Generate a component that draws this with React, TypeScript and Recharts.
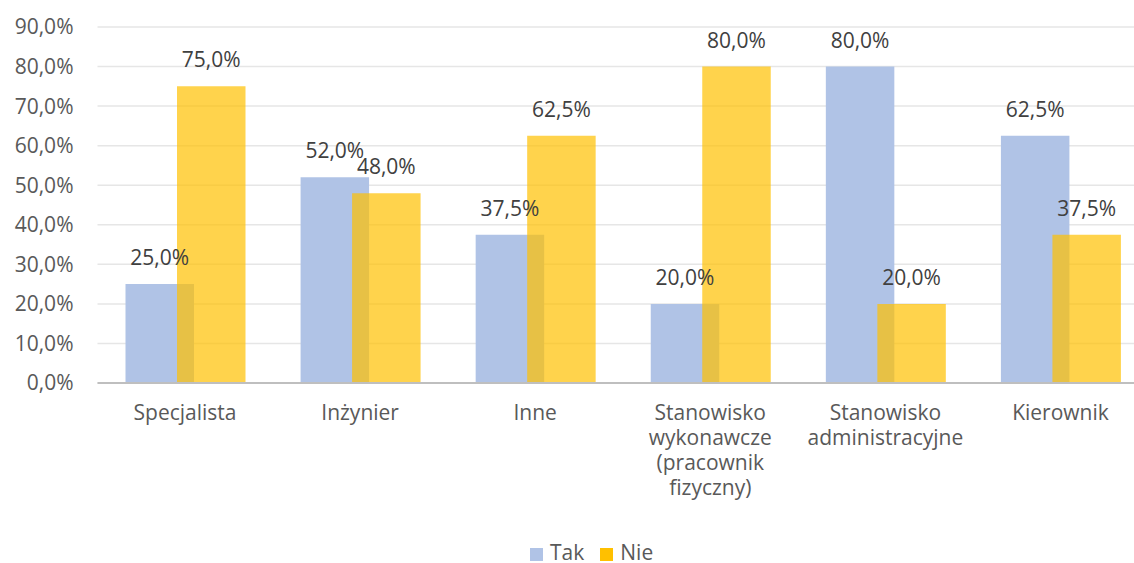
import React from 'react';
import { BarChart, Bar, XAxis, YAxis, CartesianGrid, Legend, LabelList } from 'recharts';

const categories = [
  'Specjalista',
  'Inżynier',
  'Inne',
  'Stanowisko wykonawcze (pracownik fizyczny)',
  'Stanowisko administracyjne',
  'Kierownik',
];
const takValues = [25, 52, 37.5, 20, 80, 62.5];
const nieValues = [75, 48, 62.5, 80, 20, 37.5];
const yTicks = [0, 10, 20, 30, 40, 50, 60, 70, 80, 90];
const seriesOrder = ['Tak', 'Nie'];

const data = categories.map((name, i) => ({ name, Tak: takValues[i], Nie: nieValues[i] }));

const FONT = '"Open Sans", sans-serif';
const fmt = (v: number) => `${v.toFixed(1).replace('.', ',')}%`;

const XTick = (props: any) => {
  const { x, y, payload } = props;
  const lines = String(payload.value).split(' ');
  return (
    <text x={x} y={y} textAnchor="middle" fontFamily={FONT} fontSize={21} fill="#595959">
      {lines.map((ln, i) => (
        <tspan key={i} x={x} dy={i === 0 ? 15 : 25}>
          {ln}
        </tspan>
      ))}
    </text>
  );
};

export default function App() {
  return (
    <div style={{ position: 'absolute', left: 0, top: 0, width: 1134, height: 563, overflow: 'hidden', background: '#fff' }}>
      <BarChart
        width={1148}
        height={563}
        data={data}
        margin={{ top: 27, right: 0, bottom: 0, left: 0 }}
        barGap={-17}
        barSize={68.5}
      >
        <CartesianGrid vertical={false} stroke="#E6E6E6" strokeWidth={1.5} />
        <XAxis
          dataKey="name"
          interval={0}
          tickLine={false}
          tickSize={0}
          tickMargin={22}
          axisLine={{ stroke: '#BFBFBF', strokeWidth: 2 }}
          height={159}
          tick={<XTick />}
        />
        <YAxis
          domain={[0, 90]}
          ticks={yTicks}
          width={97.5}
          axisLine={false}
          tickLine={false}
          tickSize={0}
          tickMargin={24}
          tickFormatter={fmt}
          tick={{ fontFamily: FONT, fontSize: 21, fill: '#595959' }}
        />
        <Legend
          iconType="square"
          iconSize={13}
          itemSorter={(item: any) => seriesOrder.indexOf(item.value)}
          wrapperStyle={{ position: 'absolute', left: 530, top: 542, width: 'auto', fontFamily: FONT, fontSize: 21, lineHeight: '21px' }}
          formatter={(value: string) => <span style={{ color: '#595959', marginLeft: 3, marginRight: 6 }}>{value}</span>}
        />
        <Bar dataKey="Tak" fill="#B0C3E6" isAnimationActive={false}>
          <LabelList dataKey="Tak" position="top" offset={19} formatter={fmt} style={{ fontFamily: FONT, fontSize: 21, fill: '#404040' }} />
        </Bar>
        <Bar dataKey="Nie" fill="#FFC000" fillOpacity={0.7} isAnimationActive={false}>
          <LabelList dataKey="Nie" position="top" offset={19} formatter={fmt} style={{ fontFamily: FONT, fontSize: 21, fill: '#404040' }} />
        </Bar>
      </BarChart>
    </div>
  );
}
